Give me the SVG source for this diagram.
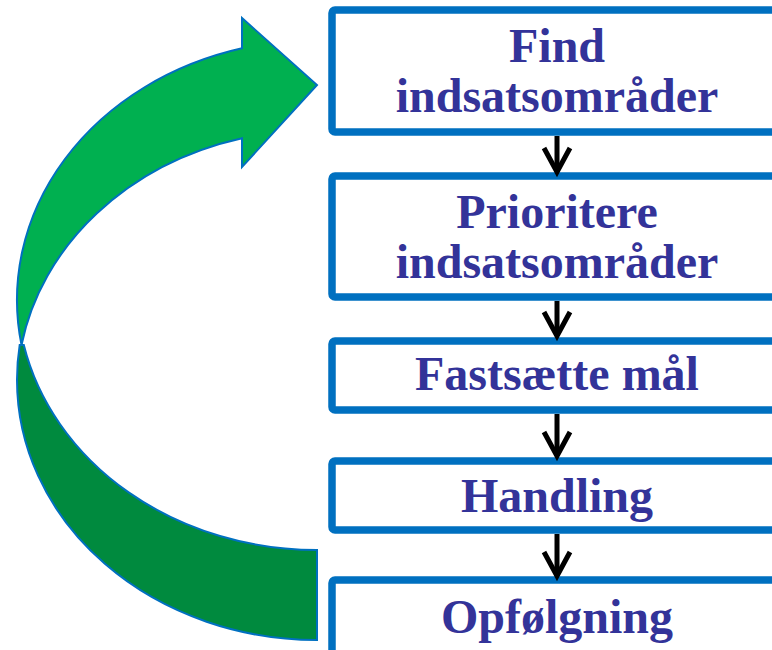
<svg xmlns="http://www.w3.org/2000/svg" width="772" height="650" viewBox="0 0 772 650">
<style>
.box{fill:#ffffff;stroke:#0070C0;stroke-width:7.5}
.lbl{font-family:"Liberation Serif","Times New Roman",serif;font-weight:bold;font-size:48px;fill:#333399;text-anchor:middle}
.conn{stroke:#000000;stroke-width:5;fill:none;marker-end:url(#chev)}
.band{stroke:#0070C0;stroke-width:2;stroke-linejoin:miter}
</style>
<defs>
<marker id="chev" markerUnits="userSpaceOnUse" orient="auto" refX="0" refY="0" markerWidth="40" markerHeight="40" overflow="visible">
<path d="M-24,-13 L0,0 L-24,13" fill="none" stroke="#000000" stroke-width="5" stroke-linejoin="miter" stroke-miterlimit="10"/>
</marker>
</defs>
<rect width="772" height="650" fill="#ffffff"/>
<g id="cycle-arrow">
<path class="band" fill="#008A3E" d="M317,640 A300,260 0 0 1 17,380 A300,260 0 0 1 19.7,345 L23.8,345 A300,260 0 0 0 317,550 Z"/>
<path class="band" fill="#00B050" d="M21.5,345 A300,260 0 0 1 242,48.3 L242,18 L317,85 L242,167 L242,138.3 A300,260 0 0 0 21.5,345 Z"/>
</g>
<g id="node-find">
<rect class="box" x="332" y="10" width="480" height="122" rx="3"/>
<text class="lbl" x="557" y="62">Find</text>
<text class="lbl" x="557" y="112">indsatsområder</text>
</g>
<g id="node-prioritere">
<rect class="box" x="332" y="176" width="480" height="121" rx="3"/>
<text class="lbl" x="557" y="228">Prioritere</text>
<text class="lbl" x="557" y="278">indsatsområder</text>
</g>
<g id="node-fastsaette">
<rect class="box" x="332" y="341" width="480" height="69" rx="3"/>
<text class="lbl" x="557" y="390">Fastsætte mål</text>
</g>
<g id="node-handling">
<rect class="box" x="332" y="461" width="480" height="69" rx="3"/>
<text class="lbl" x="557" y="512">Handling</text>
</g>
<g id="node-opfoelgning">
<rect class="box" x="332" y="580" width="480" height="80" rx="3"/>
<text class="lbl" x="557" y="633">Opfølgning</text>
</g>
<g id="connectors">
<line class="conn" x1="557" y1="136" x2="557" y2="172"/>
<line class="conn" x1="557" y1="301" x2="557" y2="336"/>
<line class="conn" x1="557" y1="414" x2="557" y2="456"/>
<line class="conn" x1="557" y1="534" x2="557" y2="576"/>
</g>
</svg>
